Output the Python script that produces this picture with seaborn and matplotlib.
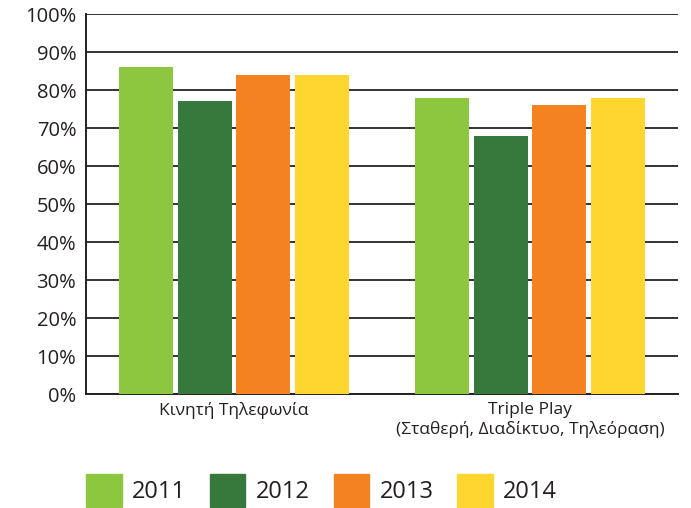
import matplotlib
matplotlib.use("Agg")
import matplotlib.pyplot as plt
import matplotlib.patches as mpatches
import pandas as pd
import seaborn as sns

# data
categories = ["Κινητή Τηλεφωνία", "Triple Play\n(Σταθερή, Διαδίκτυο, Τηλεόραση)"]
years = ["2011", "2012", "2013", "2014"]
values_2011 = [86, 78]
values_2012 = [77, 68]
values_2013 = [84, 76]
values_2014 = [84, 78]
colors = ["#8DC63F", "#37793C", "#F58220", "#FFD530"]

rows = []
for yr, vals in zip(years, [values_2011, values_2012, values_2013, values_2014]):
    for cat, v in zip(categories, vals):
        rows.append({"category": cat, "year": yr, "value": v})
df = pd.DataFrame(rows)

sns.set_style("white")
plt.rcParams["font.family"] = ["Open Sans", "DejaVu Sans"]

fig = plt.figure(figsize=(6.91, 5.08), dpi=100)
ax = fig.add_axes([0.1245, 0.2244, 0.8567, 0.748])

sns.barplot(data=df, x="category", y="value", hue="year", order=categories,
            hue_order=years, palette=colors, width=0.79, gap=0.08,
            saturation=1, linewidth=0, ax=ax, legend=False, zorder=3)

ax.set_ylim(0, 100)
ax.set_xlim(-0.5, 1.5)
ax.set_yticks(range(0, 101, 10))
ax.set_yticklabels([f"{t}%" for t in range(0, 101, 10)], fontsize=14.5, color="#231F20")
ax.tick_params(axis="x", labelsize=12.5, colors="#231F20", length=0, pad=6)
ax.tick_params(axis="y", length=0, pad=7)
ax.set_xlabel("")
ax.set_ylabel("")
ax.yaxis.grid(True, color="#333333", linewidth=1.4, zorder=0)
ax.set_axisbelow(True)
for side in ["top", "right"]:
    ax.spines[side].set_visible(False)
for side in ["left", "bottom"]:
    ax.spines[side].set_color("#222222")
    ax.spines[side].set_linewidth(1.4)

handles = [mpatches.Patch(color=c, label=y) for c, y in zip(colors, years)]
fig.legend(handles=handles, loc="lower left", bbox_to_anchor=(0.094, -0.04),
           ncol=4, frameon=False, fontsize=17, handlelength=1.5,
           handleheight=1.8, handletextpad=0.45, columnspacing=1.0,
           labelcolor="#231F20")

fig.savefig("out.png", dpi=100)
